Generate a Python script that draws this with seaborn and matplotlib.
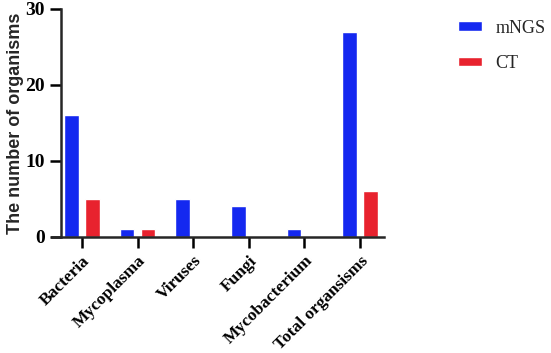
import pandas as pd
import seaborn as sns
import matplotlib.pyplot as plt

categories = ['Bacteria', 'Mycoplasma', 'Viruses', 'Fungi', 'Mycobacterium', 'Total organsisms']
mngs = [16, 1, 5, 4, 1, 27]
ct = [5, 1, 0, 0, 0, 6]
methods = ['mNGS', 'CT']

df = pd.DataFrame({
    'Category': categories * 2,
    'Count': mngs + ct,
    'Method': [methods[0]] * len(categories) + [methods[1]] * len(categories),
})

sns.set_style("ticks")
fig = plt.figure(figsize=(5.51, 3.53), dpi=100)
ax = fig.add_axes([0.094, 0.329, 0.603, 0.646])

palette = {'mNGS': '#1428F0', 'CT': '#E8222E'}
sns.barplot(data=df, x='Category', y='Count', hue='Method', palette=palette,
            order=categories, hue_order=methods, width=0.75, gap=0.3,
            saturation=1, ax=ax, legend=True)

ax.set_xlim(-0.54, 5.43)
ax.set_ylim(0, 30)
ax.set_yticks([0, 10, 20, 30])
ax.spines['left'].set_position(('data', -0.38))
ax.spines['top'].set_visible(False)
ax.spines['right'].set_visible(False)
for s in ['left', 'bottom']:
    ax.spines[s].set_linewidth(1.8)
ax.tick_params(axis='both', width=1.8, length=8, colors='black')

ax.set_xlabel('')
ax.set_ylabel('The number of organisms', fontsize=13, fontweight='bold',
              family='Liberation Sans', labelpad=1)
ax.set_xticks(range(len(categories)))
ax.set_xticklabels(categories, rotation=45, ha='right', rotation_mode='anchor',
                   fontsize=12.5, fontweight='bold', family='Liberation Serif')
for lab in ax.get_yticklabels():
    lab.set_family('Liberation Serif')
    lab.set_fontweight('bold')
    lab.set_fontsize(14)

handles, labels = ax.get_legend_handles_labels()
ax.get_legend().remove()
leg = fig.legend(handles, labels, loc='upper left', bbox_to_anchor=(0.802, 0.99),
                 frameon=False, prop={'family': 'Liberation Serif', 'size': 13},
                 handlelength=1.33, handleheight=0.45, labelspacing=1.0, handletextpad=0.75)

fig.savefig('out.png', dpi=100)
